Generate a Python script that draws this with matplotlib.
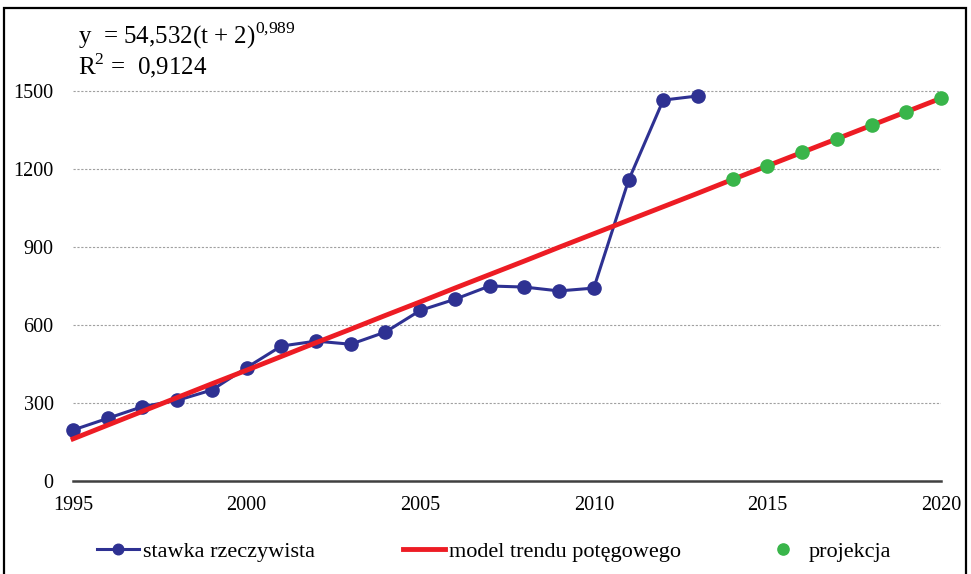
import matplotlib
matplotlib.use("Agg")
import matplotlib.pyplot as plt
from matplotlib.patches import Rectangle

# dane
years_actual = list(range(1995, 2014))
rate_actual = [196, 241, 286, 310, 350, 436, 519, 538, 526, 573,
               656, 699, 750, 746, 731, 742, 1156, 1465, 1481]

years_trend = list(range(1995, 2021))
rate_trend = [162, 215, 268, 321, 374, 426, 479, 532, 584, 637,
              689, 742, 794, 846, 899, 951, 1003, 1055, 1107, 1160,
              1212, 1264, 1316, 1368, 1420, 1472]

years_proj = list(range(2014, 2021))
rate_proj = [1162, 1213, 1265, 1316, 1368, 1420, 1472]

y_ticks = [0, 300, 600, 900, 1200, 1500]
x_ticks = [1995, 2000, 2005, 2010, 2015, 2020]

BLUE = "#2E3192"
RED = "#ED1C24"
GREEN = "#39B54A"

plt.rcParams["font.family"] = ["Liberation Serif", "DejaVu Serif"]
plt.rcParams["mathtext.fontset"] = "custom"
plt.rcParams["mathtext.rm"] = "Liberation Serif"

W, H = 971, 574
fig = plt.figure(figsize=(W / 100, H / 100), dpi=100)
ax = fig.add_axes([73 / W, (H - 481) / H, (941 - 73) / W, 1650 * 0.26 / H])

l1, = ax.plot(years_actual, rate_actual, "-o", color=BLUE, lw=2.2, ms=9.5,
              label="stawka rzeczywista", zorder=3, clip_on=False)
l2, = ax.plot(years_trend, rate_trend, "-", color=RED, lw=3.5,
              label="model trendu potęgowego", zorder=4, clip_on=False)
l3, = ax.plot(years_proj, rate_proj, "o", color=GREEN, ms=9.5, ls="none",
              label="projekcja", zorder=5, clip_on=False)

ax.set_xlim(1995, 2020)
ax.set_ylim(0, 1650)
ax.set_xticks(x_ticks)
ax.set_yticks(y_ticks)
ax.tick_params(axis="both", length=0, labelsize=14.5)
ax.tick_params(axis="y", pad=14)
ax.tick_params(axis="x", pad=11)
for s in ["top", "right", "left"]:
    ax.spines[s].set_visible(False)
ax.spines["bottom"].set_color("#404040")
ax.spines["bottom"].set_linewidth(1.8)
ax.set_axisbelow(True)
ax.yaxis.grid(True, ls=(0, (2, 1.5)), color="#A0A0A0", lw=0.8)

fig.text(78 / W, 1 - 36 / H, "y  = 54,532(t + 2)$^{0{,}989}$", fontsize=18, va="center")
fig.text(78 / W, 1 - 66 / H, "R$^2$ =  0,9124", fontsize=18, va="center")

# legenda: trzy osobne wpisy, żeby trafić w pozycje z oryginału
for line, x0, hl, pad, ms in [(l1, 97, 1.9, 0.15, 0.8), (l2, 403, 1.9, 0.15, 1.0),
                              (l3, 772, 1.0, 0.64, 0.85)]:
    fig.legend(handles=[line], loc="center left", bbox_to_anchor=(x0 / W, 1 - 552 / H),
               frameon=False, fontsize=16, handlelength=hl, handletextpad=pad,
               borderpad=0, borderaxespad=0, numpoints=1, markerscale=ms)

fig.patches.append(Rectangle((4 / W, -0.02), (966 - 4) / W, 1.02 - 8 / H,
                             transform=fig.transFigure, fill=False, ec="black", lw=1.6))

fig.savefig("out.png", dpi=100)
